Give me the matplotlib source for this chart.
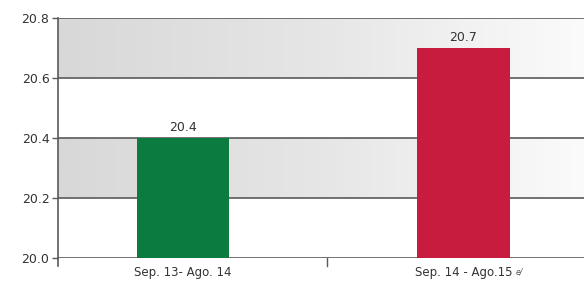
import matplotlib
matplotlib.use("Agg")
import matplotlib.pyplot as plt
import numpy as np
from matplotlib.colors import LinearSegmentedColormap

categories = ["Sep. 13- Ago. 14", "Sep. 14 - Ago.15"]
superscripts = ["", "e/"]
values = [20.4, 20.7]
value_labels = ["20.4", "20.7"]
bar_colors = ["#0b7b3f", "#c81c3e"]
yticks = [20.0, 20.2, 20.4, 20.6, 20.8]

fig = plt.figure(figsize=(5.84, 2.87), dpi=100)
ax = fig.add_axes([0.099, 0.101, 0.901, 0.836])
xmin, xmax = -0.446, 1.43
ax.set_xlim(xmin, xmax)
ax.set_ylim(20.0, 20.8)

cmap = LinearSegmentedColormap.from_list("g", ["#d8d8d8", "#e6e6e6", "#fbfbfb"])
grad = np.linspace(0, 1, 256).reshape(1, -1)
for lo, hi in [(20.2, 20.4), (20.6, 20.8)]:
    ax.imshow(grad, cmap=cmap, aspect="auto", extent=[xmin, xmax, lo, hi], zorder=0)

for y in yticks:
    ax.axhline(y, color="#5a5a5a", lw=1.2, zorder=1)

x = np.arange(len(categories))
ax.bar(x, np.array(values) - 20.0, bottom=20.0, width=0.33, color=bar_colors, zorder=2)
for xi, v, lab in zip(x, values, value_labels):
    ax.text(xi, v + 0.015, lab, ha="center", va="bottom", fontsize=9, color="#333333")

for s in ["top", "right", "bottom"]:
    ax.spines[s].set_visible(False)
ax.spines["left"].set_color("#5a5a5a")
ax.spines["left"].set_linewidth(1.2)
ax.plot([xmin, xmin], [20.0, 19.975], color="#5a5a5a", lw=1.2, clip_on=False)
ax.plot([0.513, 0.513], [20.0, 19.975], color="#5a5a5a", lw=1.0, clip_on=False)

ax.set_yticks(yticks)
ax.set_yticklabels([f"{t:.1f}" for t in yticks], fontsize=9, color="#333333")
ax.tick_params(axis="y", length=4, width=1, color="#5a5a5a", pad=2)
ax.set_xticks(x)
ax.set_xticklabels(categories, fontsize=8.5, color="#333333")
ax.tick_params(axis="x", length=0, pad=6)

fig.canvas.draw()
r = fig.canvas.get_renderer()
for lbl, sup in zip(ax.get_xticklabels(), superscripts):
    if sup:
        bb = lbl.get_window_extent(renderer=r)
        fig.text((bb.x1 + 4) / fig.bbox.width, (bb.y1 - 1) / fig.bbox.height, sup,
                 fontsize=5.5, color="#555555", ha="left", va="top", style="italic")

fig.savefig("out.png", dpi=100)
